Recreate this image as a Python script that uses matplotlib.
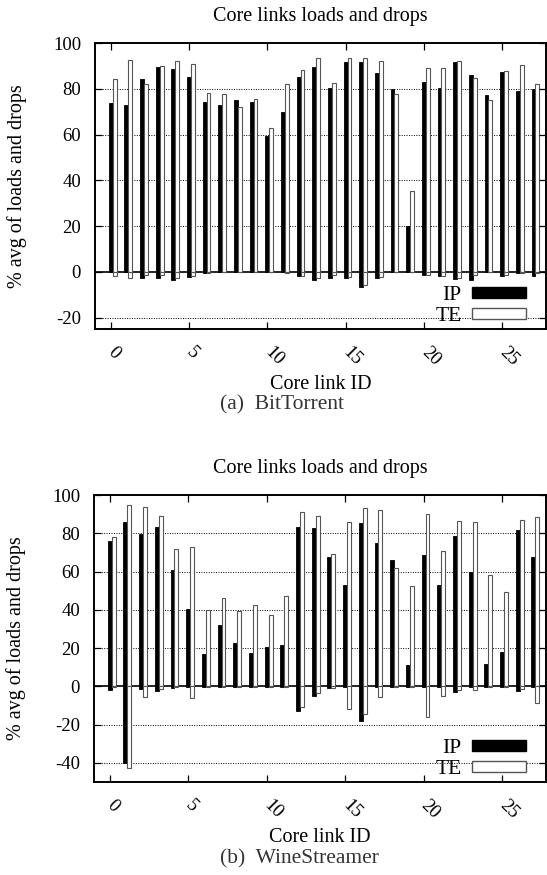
import numpy as np
import matplotlib
matplotlib.use("Agg")
import matplotlib.pyplot as plt
from matplotlib.patches import Patch

plt.rcParams['font.family'] = ['Liberation Serif', 'DejaVu Serif']
plt.rcParams['axes.unicode_minus'] = False

link_ids = list(range(28))

# (a) BitTorrent: average load and drops per core link (%)
bt_ip_load = [73.8, 73.1, 84.4, 89.3, 88.7, 85.2, 74.0, 72.7, 75.1, 74.4, 59.4, 70.0, 85.2, 89.5,
              80.4, 91.7, 91.7, 87.0, 80.1, 20.0, 83.0, 80.4, 91.7, 85.8, 77.2, 87.3, 78.9, 80.1]
bt_te_load = [84.4, 92.5, 82.2, 89.9, 92.1, 90.9, 78.2, 77.8, 72.1, 75.7, 62.7, 82.2, 88.3, 93.6,
              82.6, 93.6, 93.6, 92.1, 77.8, 35.1, 89.2, 89.2, 92.1, 84.8, 74.9, 87.9, 90.2, 82.2]
bt_ip_drop = [0.3, 0.3, 2.6, 2.6, 3.4, 2.2, 0.7, 0.3, 0.2, 0.2, 0.2, 0.3, 1.8, 3.4,
              2.9, 2.9, 6.6, 2.5, 0.2, 0.2, 1.2, 1.8, 3.2, 3.4, 0.3, 1.8, 0.7, 1.8]
bt_te_drop = [1.8, 2.6, 1.5, 1.5, 2.9, 1.9, 0.7, 0.3, 0.2, 0.2, 0.2, 0.7, 1.8, 2.9,
              1.5, 2.2, 5.8, 2.2, 0.2, 0.2, 1.2, 1.8, 2.5, 1.5, 0.3, 1.5, 0.7, 0.7]

# (b) WineStreamer
ws_ip_load = [76.1, 86.0, 79.5, 83.4, 60.9, 40.4, 17.0, 32.0, 22.5, 17.6, 20.4, 21.8, 83.4, 82.5,
              67.4, 53.1, 85.5, 74.8, 66.0, 11.1, 68.8, 53.1, 78.7, 59.9, 11.8, 18.1, 81.8, 67.7]
ws_te_load = [77.8, 94.7, 93.8, 89.1, 71.7, 72.6, 39.9, 46.1, 39.5, 42.6, 37.1, 47.2, 91.0, 88.8,
              69.1, 85.8, 93.1, 92.4, 62.1, 52.7, 90.3, 70.7, 86.5, 85.8, 58.1, 49.3, 87.0, 88.4]
ws_ip_drop = [1.7, 40.0, 1.4, 2.6, 0.9, 0.3, 0.2, 0.2, 0.2, 0.2, 0.2, 0.2, 13.1, 4.9,
              0.9, 0.3, 17.9, 0.3, 0.3, 0.2, 0.3, 0.3, 3.1, 0.3, 0.2, 0.2, 2.6, 0.3]
ws_te_drop = [0.3, 42.6, 5.7, 1.4, 0.5, 6.3, 0.2, 0.2, 0.2, 0.2, 0.2, 0.2, 10.6, 3.5,
              0.9, 12.0, 14.4, 5.4, 0.3, 0.2, 15.8, 4.9, 1.7, 1.9, 0.2, 0.2, 1.4, 8.9]

series_names = ["IP", "TE"]

W, H = 547, 875
fig = plt.figure(figsize=(W / 100, H / 100), dpi=100)


def draw_panel(rect, ip_load, te_load, ip_drop, te_drop, ymin, yticks, caption, caption_y):
    ax = fig.add_axes(rect)
    x = np.array(link_ids)
    bw = 0.25
    ax.bar(x, ip_load, width=bw, color="black", edgecolor="black", linewidth=0.6)
    ax.bar(x, -np.array(ip_drop), width=bw, color="black", edgecolor="black", linewidth=0.6)
    ax.bar(x + bw, te_load, width=bw, color="white", edgecolor="#555555", linewidth=0.8)
    ax.bar(x + bw, -np.array(te_drop), width=bw, color="white", edgecolor="#555555", linewidth=0.8)

    ax.set_xlim(-1, 27.8)
    ax.set_ylim(ymin, 100)
    ax.set_yticks(yticks)
    ax.set_xticks([0, 5, 10, 15, 20, 25])
    ax.set_xticklabels(["0", "5", "10", "15", "20", "25"], rotation=-45,
                       ha="left", va="center", rotation_mode="anchor")
    for yt in yticks:
        if yt == 0:
            ax.axhline(0, color="black", lw=1.2, zorder=0.5)
        elif yt != 100:
            ax.axhline(yt, color="black", lw=0.7, ls=(0, (1, 1.5)), zorder=0.4)
    ax.tick_params(direction="in", top=True, right=True, length=5, labelsize=13.5, width=0.9)
    ax.tick_params(axis="x", pad=15)
    ax.tick_params(axis="y", pad=10)
    for s in ax.spines.values():
        s.set_linewidth(1.4)

    ax.set_title("Core links loads and drops", fontsize=14.5, pad=16)
    ax.set_xlabel("Core link ID", fontsize=14.5, labelpad=4)
    ax.set_ylabel("% avg of loads and drops", fontsize=14.5, labelpad=19)

    handles = [Patch(facecolor="black", edgecolor="black"),
               Patch(facecolor="white", edgecolor="#555555")]
    ax.legend(handles, series_names, loc="lower right", bbox_to_anchor=(0.956, 0.01),
              frameon=False, markerfirst=False, fontsize=15.5, handlelength=2.5,
              handleheight=0.42, labelspacing=0.1, handletextpad=0.5, borderpad=0.0,
              borderaxespad=0.0)

    fig.text(220 / W, caption_y, caption, ha="left", va="center", fontsize=15.5, color="#333333")
    return ax


draw_panel([95 / W, 1 - 329 / H, 451 / W, 286 / H],
           bt_ip_load, bt_te_load, bt_ip_drop, bt_te_drop,
           -25, [-20, 0, 20, 40, 60, 80, 100], "(a)  BitTorrent", 1 - 405 / H)

draw_panel([94 / W, 1 - 782 / H, 452 / W, 287 / H],
           ws_ip_load, ws_te_load, ws_ip_drop, ws_te_drop,
           -50, [-40, -20, 0, 20, 40, 60, 80, 100], "(b)  WineStreamer", 1 - 859 / H)

fig.savefig("out.png", dpi=100)
